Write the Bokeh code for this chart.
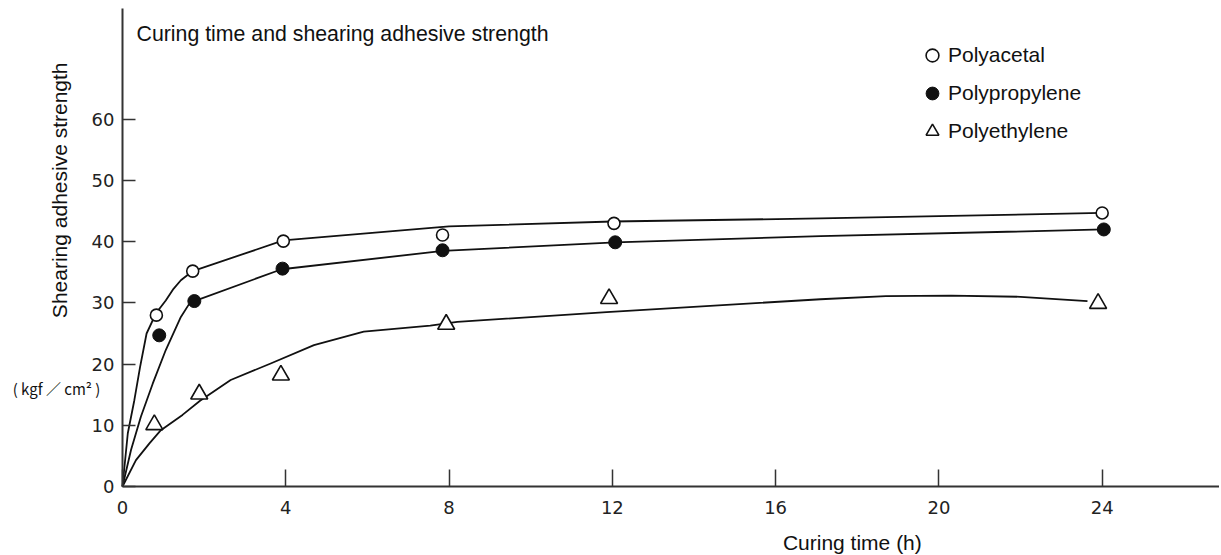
import math
from bokeh.plotting import figure
from bokeh.models import Label, Legend, LegendItem, FixedTicker, Range1d
from bokeh.embed import file_html
from bokeh.resources import INLINE

# ---- data ----
x_ticks = [0, 4, 8, 12, 16, 20, 24]
y_ticks = [0, 10, 20, 30, 40, 50, 60]

series_names = ["Polyacetal", "Polypropylene", "Polyethylene"]

# measured points (curing time h, strength kgf/cm2)
pa_t = [0.83, 1.72, 3.94, 7.84, 12.04, 24.0]
pa_v = [28.0, 35.2, 40.1, 41.1, 43.0, 44.7]
pp_t = [0.90, 1.76, 3.92, 7.84, 12.07, 24.04]
pp_v = [24.7, 30.3, 35.6, 38.6, 39.9, 42.0]
pe_t = [0.78, 1.88, 3.88, 7.93, 11.92, 23.9]
pe_v = [10.1, 15.1, 18.2, 26.5, 30.7, 29.9]

# hand-drawn fitted curves
pa_curve_t = [0, 0.13, 0.29, 0.43, 0.59, 0.82, 1.06, 1.25, 1.43, 1.72, 3.94, 8.0, 12.0, 17.1, 24.0]
pa_curve_v = [0, 8.7, 14.1, 19.5, 25.0, 28.3, 30.4, 32.3, 33.7, 35.2, 40.2, 42.5, 43.3, 43.8, 44.7]
pp_curve_t = [0, 0.21, 0.45, 0.74, 1.06, 1.43, 1.63, 1.76, 3.9, 7.85, 12.07, 17.1, 24.04]
pp_curve_v = [0, 6.0, 11.4, 16.8, 22.3, 27.7, 29.8, 30.3, 35.5, 38.5, 39.9, 40.9, 42.0]
pe_curve_t = [0, 0.33, 0.66, 0.94, 1.47, 1.9, 2.65, 3.63, 4.69, 5.91, 7.54, 8.2, 11.86, 17.1, 18.7, 20.3, 22.0, 23.64]
pe_curve_v = [0, 4.3, 7.05, 9.2, 11.7, 14.0, 17.4, 20.1, 23.1, 25.3, 26.3, 26.9, 28.5, 30.6, 31.1, 31.2, 31.0, 30.3]

title_text = "Curing time and shearing adhesive strength"
x_label = "Curing time (h)"
y_label = "Shearing adhesive strength"
unit_label = "( kgf \uff0f cm\u00b2 )"

INK = "#111111"
FONT = "Liberation Sans"

W, H = 1219, 554
X0_PX, Y0_PX = 122, 486          # where the origin sits on the page
SX, SY = 40.82, 6.12             # pixels per hour, pixels per kgf/cm2

p = figure(width=W, height=H, output_backend="svg", toolbar_location=None,
           x_range=Range1d(-X0_PX / SX, (W - X0_PX) / SX),
           y_range=Range1d(-(H - Y0_PX) / SY, Y0_PX / SY),
           min_border=0)
p.outline_line_color = None
p.xgrid.visible = False
p.ygrid.visible = False
p.background_fill_color = "white"
p.border_fill_color = "white"

for ax in (p.xaxis[0], p.yaxis[0]):
    ax.fixed_location = 0
    ax.axis_line_color = "#333333"
    ax.axis_line_width = 2
    ax.major_tick_line_color = "#333333"
    ax.major_tick_line_width = 1.5
    ax.minor_tick_line_color = None
    ax.major_tick_out = 0
    ax.major_label_text_font = "DejaVu Sans"
    ax.major_label_text_font_size = "18px"
    ax.major_label_text_color = "#222222"

p.xaxis[0].bounds = (0, (W - X0_PX) / SX)
p.yaxis[0].bounds = (0, (Y0_PX - 8) / SY)
p.xaxis[0].ticker = FixedTicker(ticks=x_ticks)
p.yaxis[0].ticker = FixedTicker(ticks=y_ticks)
p.xaxis[0].major_tick_in = 17
p.yaxis[0].major_tick_in = 13
p.xaxis[0].major_label_standoff = 14
p.yaxis[0].major_label_standoff = 8

# curves
for ct, cv in ((pa_curve_t, pa_curve_v), (pp_curve_t, pp_curve_v), (pe_curve_t, pe_curve_v)):
    p.line(ct, cv, line_color=INK, line_width=1.8, line_join="round")

# points
r_pa = p.scatter(pa_t, pa_v, marker="circle", size=12, fill_color="white", line_color=INK, line_width=1.6)
r_pp = p.scatter(pp_t, pp_v, marker="circle", size=13, fill_color=INK, line_color=INK, line_width=1)
r_pe = p.scatter(pe_t, pe_v, marker="triangle", size=17, fill_color="white", line_color=INK, line_width=1.6)

legend = Legend(items=[LegendItem(label=series_names[0], renderers=[r_pa]),
                       LegendItem(label=series_names[1], renderers=[r_pp]),
                       LegendItem(label=series_names[2], renderers=[r_pe])],
                location=(916, 407), orientation="vertical",
                glyph_width=32, glyph_height=32, label_height=32, spacing=6,
                label_standoff=0, padding=0, margin=0,
                border_line_color=None, background_fill_alpha=0,
                label_text_font=FONT, label_text_font_size="21px", label_text_color=INK)
p.add_layout(legend, "center")

p.add_layout(Label(x=0.343, y=74.0, text=title_text, text_font=FONT, text_font_size="21.3px",
                   text_color=INK, text_align="left", text_baseline="middle"))
p.add_layout(Label(x=17.88, y=-9.1, text=x_label, text_font=FONT, text_font_size="21px",
                   text_color=INK, text_align="center", text_baseline="middle"))
p.add_layout(Label(x=-1.55, y=48.4, angle=math.pi / 2, text=y_label, text_font=FONT,
                   text_font_size="21px", text_color=INK, text_align="center", text_baseline="middle"))
p.add_layout(Label(x=-2.69, y=16.0, text=unit_label, text_font="Noto Sans CJK JP",
                   text_font_size="15px", text_color=INK, text_align="left", text_baseline="middle"))

open("out.html", "w").write(file_html(p, INLINE))
